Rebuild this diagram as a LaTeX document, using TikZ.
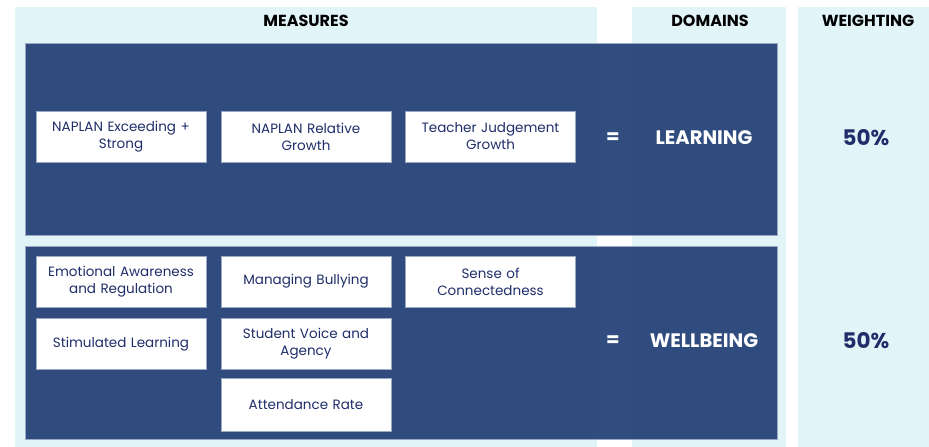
\documentclass[tikz,border=0pt]{standalone}
\usepackage{fontspec}
\setmainfont{Poppins}
\usepackage{xcolor}
\usepackage{tikz}
\usetikzlibrary{positioning}

\definecolor{bandblue}{HTML}{29467A}
\definecolor{colbg}{HTML}{E1F5F8}
\definecolor{navytext}{HTML}{1F2E6A}
\definecolor{boxedge}{HTML}{9AA8C4}

\tikzset{
  measure/.style={rectangle, draw=boxedge, line width=0.6pt, fill=white,
    minimum width=170pt, minimum height=51pt, align=center, text width=166pt,
    font=\fontsize{13.5}{17}\selectfont, text=navytext, inner sep=0pt},
  header/.style={font=\fontsize{16}{18}\selectfont\bfseries, text=black},
  domainlabel/.style={font=\fontsize{19.5}{22}\selectfont\bfseries, text=white},
  weight/.style={font=\fontsize{21.5}{24}\selectfont\bfseries, text=navytext}
}

\begin{document}
\begin{tikzpicture}[x=1pt, y=-1pt]
            \useasboundingbox (0,0) rectangle (929,447);
            % Column backgrounds
            \fill[colbg] (15,7) rectangle (597,447);
            \fill[colbg] (632,7) rectangle (786,447);
            \fill[colbg] (798,7) rectangle (929,447);

            % Headers
            \node[header] (measureshead) at (306,21) {MEASURES};
            \node[header] (domainshead) at (710,21) {DOMAINS};
            \node[header] (weighthead) at (868,21) {WEIGHTING};

            % Domain bands
            \draw[fill=bandblue, fill opacity=0.96, draw=boxedge, line width=0.6pt] (25.5,43) rectangle (777,235);
            \draw[fill=bandblue, fill opacity=0.96, draw=boxedge, line width=0.6pt] (25.5,246) rectangle (777,439);

            % Learning measures
            \node[measure] (exceeding) at (121,136.5) {NAPLAN Exceeding +\\Strong};
            \node[measure] (relative) at (306,136.5) {NAPLAN Relative\\Growth};
            \node[measure] (judgement) at (490.5,136.5) {Teacher Judgement\\Growth};

            % Wellbeing measures
            \node[measure] (emotional) at (121,281.5) {Emotional Awareness\\and Regulation};
            \node[measure] (bullying) at (306,281.5) {Managing Bullying};
            \node[measure] (connected) at (490.5,281.5) {Sense of\\Connectedness};
            \node[measure] (stimulated) at (121,344) {Stimulated Learning};
            \node[measure] (voice) at (306,344) {Student Voice and\\Agency};
            \node[measure, minimum height=53pt] (attendance) at (306,404.5) {Attendance Rate};

            % Domains and weightings
            \node[domainlabel] (eqlearn) at (613,138) {=};
            \node[domainlabel] (learning) at (704,138) {LEARNING};
            \node[weight] (learnweight) at (866,138) {50\%};
            \node[domainlabel] (eqwell) at (613,341) {=};
            \node[domainlabel] (wellbeing) at (704,341) {WELLBEING};
            \node[weight] (wellweight) at (866,341) {50\%};
        \end{tikzpicture}
\end{document}
